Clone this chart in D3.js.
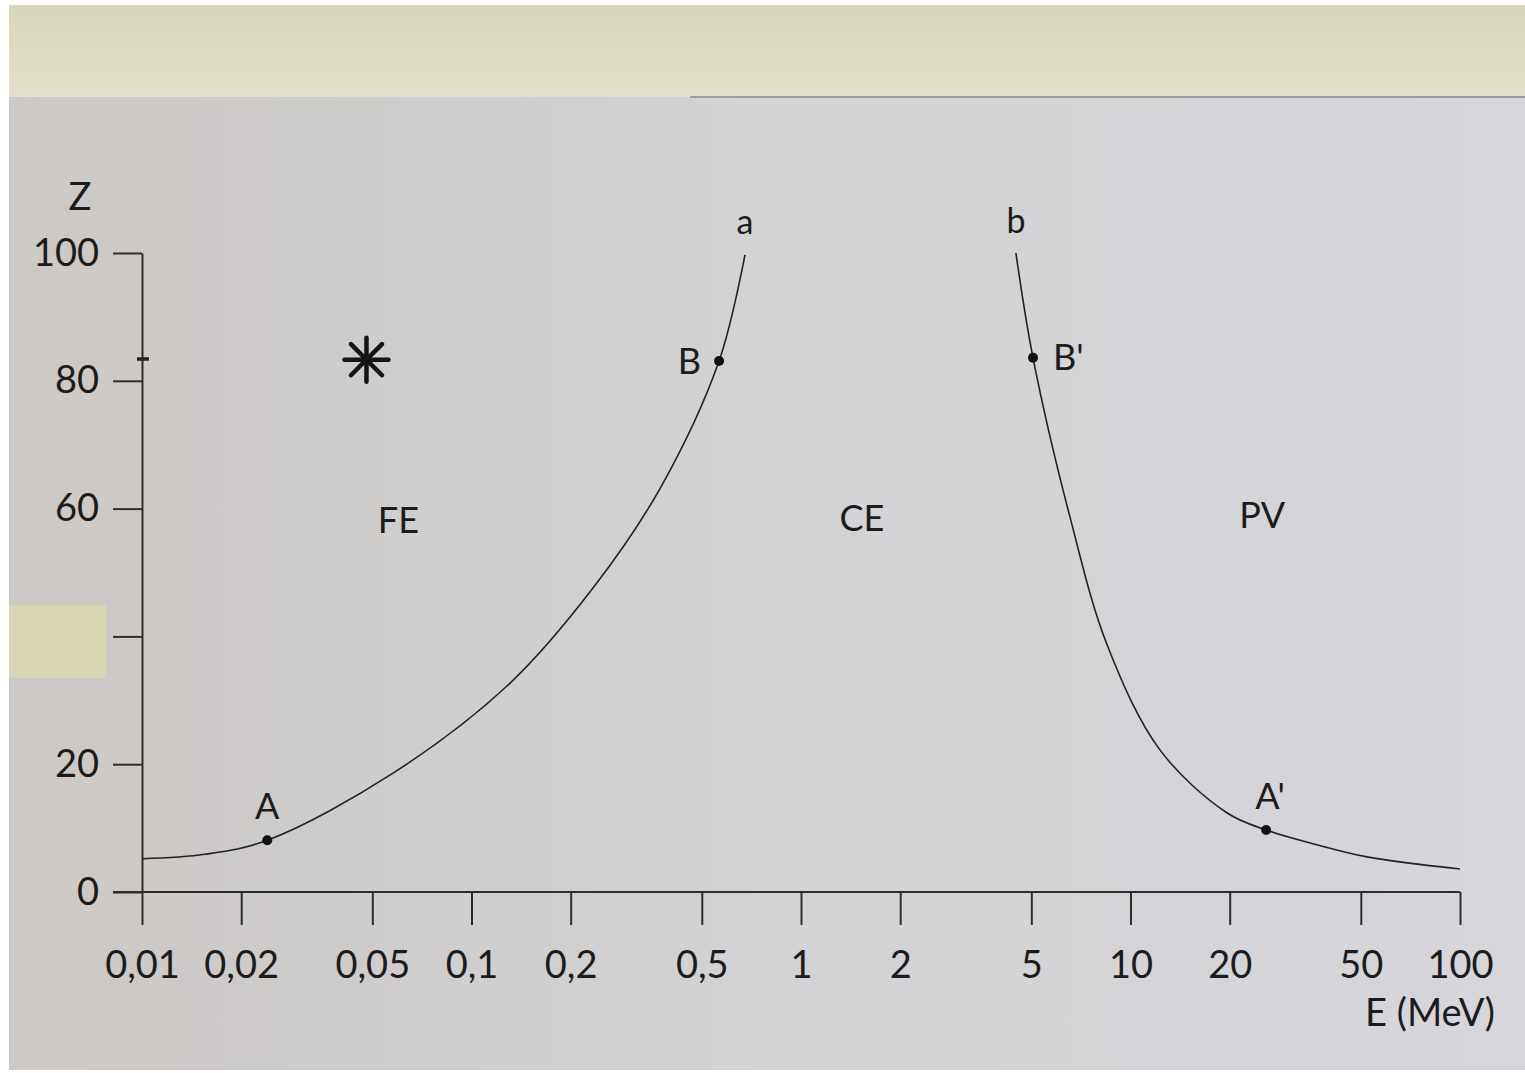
<!DOCTYPE html>
<html lang="fr">
<head>
<meta charset="UTF-8">
<title>Z en fonction de E</title>
<script src="https://d3js.org/d3.v7.min.js"></script>
<style>
  body { margin: 0; background: #fff; }
  svg { display: block; }
  text { font-family: Lato, "Open Sans", sans-serif; fill: #1c1c1c; }
  .axis path, .axis line { stroke: #2e2e2e; stroke-width: 2; }
  .axis text { font-size: 38px; fill: #1c1c1c; font-family: Lato, sans-serif; }
  .curve { fill: none; stroke: #222; stroke-width: 1.6; }
</style>
</head>
<body>
<svg width="1525" height="1073"></svg>
<script>
// axis ticks
const xTicks = [0.01, 0.02, 0.05, 0.1, 0.2, 0.5, 1, 2, 5, 10, 20, 50, 100];
const yTicks = [0, 20, 40, 60, 80, 100];

// boundary curve a (FE / CE)
const curveAE = [0.01, 0.0155, 0.024, 0.0578, 0.131, 0.234, 0.373, 0.564, 0.676];
const curveAZ = [5.2, 5.9, 8.1, 18.6, 32.7, 47.6, 63.1, 83.1, 99.7];

// boundary curve b (CE / PV)
const curveBE = [4.49, 5.06, 6.55, 8.49, 12.3, 19.6, 25.8, 36.8, 52.2, 100];
const curveBZ = [100, 83.6, 58.7, 38.7, 22.2, 12.4, 9.7, 7.4, 5.5, 3.6];

// marked points
const pointNames = ["A", "B", "B'", "A'"];
const pointE = [0.024, 0.564, 5.06, 25.8];
const pointZ = [8.1, 83.1, 83.6, 9.7];

// region labels
const regionNames = ["FE", "CE", "PV"];
const regionE = [0.06, 1.53, 25.1];
const regionZ = [58.2, 58.5, 59];

const starE = 0.048, starZ = 83.3;

const svg = d3.select("svg");

// photo background: paper, top strip, tape
const defs = svg.append("defs");
const pg = defs.append("linearGradient").attr("id", "paper");
pg.append("stop").attr("offset", "0").attr("stop-color", "#cbc8c5");
pg.append("stop").attr("offset", "0.5").attr("stop-color", "#d3d2d4");
pg.append("stop").attr("offset", "1").attr("stop-color", "#d6d6db");
const sg = defs.append("linearGradient").attr("id", "strip").attr("x2", 0).attr("y2", 1);
sg.append("stop").attr("offset", "0").attr("stop-color", "#d8d6ba");
sg.append("stop").attr("offset", "1").attr("stop-color", "#e2e0c8");

svg.append("rect").attr("x", 9).attr("y", 5).attr("width", 1516).attr("height", 94).attr("fill", "url(#strip)");
svg.append("rect").attr("x", 9).attr("y", 97).attr("width", 1516).attr("height", 973).attr("fill", "url(#paper)");
svg.append("line").attr("x1", 690).attr("x2", 1525).attr("y1", 97).attr("y2", 97)
  .attr("stroke", "#8a8a86").attr("stroke-width", 1.5);

const x = d3.scaleLog().domain([0.01, 100]).range([142, 1460]);
const y = d3.scaleLinear().domain([0, 100]).range([892, 253]);

const fmt = d => String(d).replace(".", ",");

// axes
svg.append("g").attr("class", "axis")
  .attr("transform", `translate(${x(0.01)},0)`)
  .call(d3.axisLeft(y).tickValues(yTicks).tickSize(29).tickSizeOuter(0).tickPadding(14).tickFormat(fmt));

const xAxis = svg.append("g").attr("class", "axis")
  .attr("transform", `translate(0,${y(0)})`)
  .call(d3.axisBottom(x).tickValues(xTicks).tickSize(33).tickSizeOuter(0).tickPadding(26).tickFormat(fmt));
xAxis.select(".domain").remove();
xAxis.append("line").attr("x1", x(0.01) - 29).attr("x2", x(100)).attr("y1", 0).attr("y2", 0);

// small mark on Z axis
svg.append("line").attr("x1", x(0.01) - 5).attr("x2", x(0.01) + 7)
  .attr("y1", y(pointZ[1]) - 2).attr("y2", y(pointZ[1]) - 2)
  .attr("stroke", "#222").attr("stroke-width", 3.5);

// axis titles
svg.append("text").attr("x", 80).attr("y", 197).attr("dy", "0.35em")
  .attr("text-anchor", "middle").attr("font-size", 38).text("Z");
svg.append("text").attr("x", 1430).attr("y", 1013).attr("dy", "0.35em")
  .attr("text-anchor", "middle").attr("font-size", 38).text("E (MeV)");

// curves
const line = d3.line().x(d => x(d[0])).y(d => y(d[1])).curve(d3.curveCatmullRom.alpha(0.5));
svg.append("path").attr("class", "curve").attr("d", line(d3.zip(curveAE, curveAZ)));
svg.append("path").attr("class", "curve").attr("d", line(d3.zip(curveBE, curveBZ)));

// curve names
svg.append("text").attr("x", x(curveAE[curveAE.length - 1])).attr("y", y(curveAZ[curveAZ.length - 1]) - 33)
  .attr("text-anchor", "middle").attr("dy", "0.35em").attr("font-size", 34).text("a");
svg.append("text").attr("x", x(curveBE[0])).attr("y", y(curveBZ[0]) - 32)
  .attr("text-anchor", "middle").attr("dy", "0.35em").attr("font-size", 34).text("b");

// points
svg.selectAll(".pt").data(pointNames).enter().append("circle")
  .attr("class", "pt")
  .attr("cx", (d, i) => x(pointE[i]))
  .attr("cy", (d, i) => y(pointZ[i]))
  .attr("r", 5).attr("fill", "#111");

const labOff = { "A": [0, -34, "middle"], "B": [-18, 0, "end"], "B'": [20, 0, "start"], "A'": [4, -34, "middle"] };
svg.selectAll(".ptl").data(pointNames).enter().append("text")
  .attr("class", "ptl")
  .attr("x", (d, i) => x(pointE[i]) + labOff[d][0])
  .attr("y", (d, i) => y(pointZ[i]) + labOff[d][1])
  .attr("dy", "0.35em")
  .attr("text-anchor", d => labOff[d][2])
  .attr("font-size", 36)
  .text(d => d);

// regions
svg.selectAll(".reg").data(regionNames).enter().append("text")
  .attr("class", "reg")
  .attr("x", (d, i) => x(regionE[i]))
  .attr("y", (d, i) => y(regionZ[i]))
  .attr("dy", "0.35em").attr("text-anchor", "middle")
  .attr("font-size", 36)
  .text(d => d);

// asterisk
const star = svg.append("g").attr("transform", `translate(${x(starE)},${y(starZ)})`);
d3.range(4).forEach(k => {
  const a = k * Math.PI / 4;
  star.append("line")
    .attr("x1", -22 * Math.cos(a)).attr("y1", -22 * Math.sin(a))
    .attr("x2", 22 * Math.cos(a)).attr("y2", 22 * Math.sin(a))
    .attr("stroke", "#151515").attr("stroke-width", 4.5).attr("stroke-linecap", "round");
});

// tape strip on the left edge (covers the "40" label)
svg.append("rect").attr("x", 9).attr("y", 605).attr("width", 97).attr("height", 73)
  .attr("fill", "#d9d6b3");
</script>
</body>
</html>
